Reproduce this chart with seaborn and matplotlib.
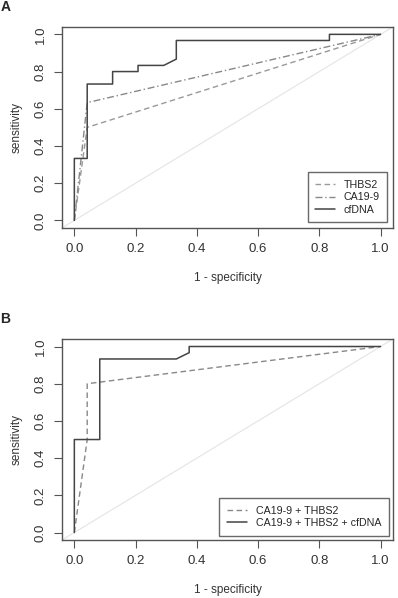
import matplotlib
matplotlib.use("Agg")
import matplotlib.pyplot as plt
import seaborn as sns
import pandas as pd

# ROC curve points (1 - specificity, sensitivity)
thbs2_fpr = [0.0, 0.042, 1.0]
thbs2_tpr = [0.0, 0.5, 1.0]
ca199_fpr = [0.0, 0.042, 1.0]
ca199_tpr = [0.0, 0.633, 1.0]
cfdna_fpr = [0.0, 0.0, 0.042, 0.042, 0.125, 0.125, 0.208, 0.208, 0.292, 0.333, 0.333, 0.833, 0.833, 1.0]
cfdna_tpr = [0.0, 0.333, 0.333, 0.733, 0.733, 0.8, 0.8, 0.833, 0.833, 0.867, 0.967, 0.967, 1.0, 1.0]

combo2_fpr = [0.0, 0.042, 0.042, 1.0]
combo2_tpr = [0.0, 0.5, 0.8, 1.0]
combo3_fpr = [0.0, 0.0, 0.083, 0.083, 0.333, 0.375, 0.375, 1.0]
combo3_tpr = [0.0, 0.5, 0.5, 0.933, 0.933, 0.967, 1.0, 1.0]

ticks = [0.0, 0.2, 0.4, 0.6, 0.8, 1.0]
tick_labels = ["0.0", "0.2", "0.4", "0.6", "0.8", "1.0"]

sns.set_style("white")
plt.rcParams['font.family'] = ['Liberation Sans', 'DejaVu Sans']

fig = plt.figure(figsize=(3.98, 5.98), dpi=100)
ax_a = fig.add_axes([0.156, 0.619, 0.831, 0.336])
ax_b = fig.add_axes([0.156, 0.097, 0.831, 0.336])

box_col = "#555555"


def draw_curve(ax, fpr, tpr, label, color, ls, lw=1.0):
    df = pd.DataFrame({"fpr": fpr, "tpr": tpr})
    sns.lineplot(data=df, x="fpr", y="tpr", sort=False, estimator=None,
                 ax=ax, color=color, linestyle=ls, linewidth=lw, label=label)


def style_axes(ax, panel):
    ax.axline((0, 0), (1, 1), color="#e4e4e4", linewidth=0.8, zorder=0)
    ax.set_xlim(-0.04, 1.04)
    ax.set_ylim(-0.04, 1.04)
    ax.set_xticks(ticks)
    ax.set_xticklabels(tick_labels)
    ax.set_yticks(ticks)
    ax.set_yticklabels(tick_labels, rotation=90, va="center")
    ax.tick_params(axis="both", direction="out", length=6, width=0.8,
                   color=box_col, labelsize=9.5, labelcolor="#333333", pad=5,
                   bottom=True, left=True)
    for s in ax.spines.values():
        s.set_color(box_col)
        s.set_linewidth(1.0)
    ax.set_xlabel("1 - specificity", fontsize=8.5, color="#333333", labelpad=12)
    ax.set_ylabel("sensitivity", fontsize=8.5, color="#333333", labelpad=9)
    ax.text(-0.172, 1.10, panel, transform=ax.transAxes, fontsize=10,
            fontweight="bold", ha="center", va="center")


leg_kw = dict(loc="lower right", fontsize=7.7, frameon=True, fancybox=False,
              edgecolor="#444444", handlelength=1.9, borderpad=0.7,
              labelspacing=0.25, handletextpad=0.8)

draw_curve(ax_a, thbs2_fpr, thbs2_tpr, "THBS2", "#999999", (0, (4, 2.5)))
draw_curve(ax_a, ca199_fpr, ca199_tpr, "CA19-9", "#888888", (0, (5, 2, 1, 2)))
draw_curve(ax_a, cfdna_fpr, cfdna_tpr, "cfDNA", "#444444", "-", 1.1)
style_axes(ax_a, "A")
ax_a.legend(borderaxespad=0.5, **leg_kw)

draw_curve(ax_b, combo2_fpr, combo2_tpr, "CA19-9 + THBS2", "#888888", (0, (4, 2.5)))
draw_curve(ax_b, combo3_fpr, combo3_tpr, "CA19-9 + THBS2 + cfDNA", "#444444", "-", 1.1)
style_axes(ax_b, "B")
ax_b.legend(borderaxespad=0.4, **leg_kw)

fig.savefig("out.png", dpi=100)
